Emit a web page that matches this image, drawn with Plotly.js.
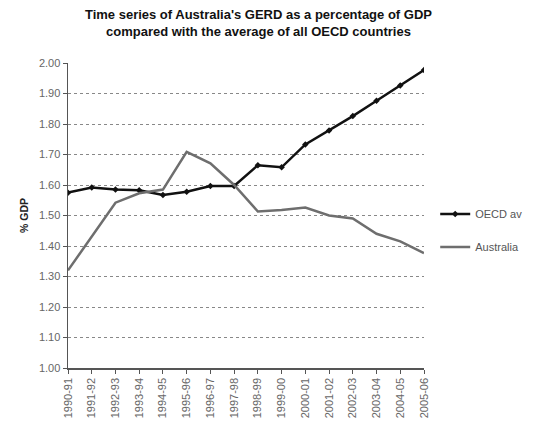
<!DOCTYPE html>
<html>
<head>
<meta charset="utf-8">
<script src="https://cdn.plot.ly/plotly-3.0.1.min.js"></script>
<style>html,body{margin:0;padding:0;background:#fff;}#chart{width:534px;height:423px;}</style>
</head>
<body>
<div id="chart"></div>
<script>
var years = ["1990-91","1991-92","1992-93","1993-94","1994-95","1995-96","1996-97","1997-98","1998-99","1999-00","2000-01","2001-02","2002-03","2003-04","2004-05","2005-06"];
var oecdAvg = [1.575,1.592,1.585,1.583,1.567,1.578,1.597,1.597,1.665,1.658,1.733,1.779,1.826,1.876,1.926,1.977];
var australia = [1.32,1.43,1.542,1.573,1.585,1.709,1.671,1.60,1.513,1.518,1.526,1.50,1.49,1.44,1.415,1.377];
var yTicks = [1.0,1.1,1.2,1.3,1.4,1.5,1.6,1.7,1.8,1.9,2.0];
var yTickText = ["1.00","1.10","1.20","1.30","1.40","1.50","1.60","1.70","1.80","1.90","2.00"];

var traces = [
  {x: years, y: oecdAvg, name: "OECD av", type: "scatter", mode: "lines+markers", legendgroup: "a",
   line: {color: "#111", width: 2.5}, marker: {symbol: "diamond", size: 5, color: "#111"}},
  {x: years, y: australia, name: "Australia", type: "scatter", mode: "lines", legendgroup: "b",
   line: {color: "#6e6e6e", width: 2.5}}
];

var layout = {
  width: 534, height: 423,
  margin: {l: 68, r: 110, t: 63, b: 55},
  paper_bgcolor: "#fff", plot_bgcolor: "#fff",
  font: {family: "Liberation Sans, Arial, sans-serif", color: "#555", size: 11},
  title: {text: "<b>Time series of Australia's GERD as a percentage of GDP<br>compared with the average of all OECD countries</b>",
          font: {size: 13, color: "#111"}, x: 0.484, xanchor: "center", y: 0.954, yanchor: "middle", yref: "container"},
  xaxis: {type: "category", range: [0, 15], tickangle: -90, showgrid: false,
          showline: true, linecolor: "#555", linewidth: 1.5, ticks: "outside", ticklen: 4, tickcolor: "#555",
          tickfont: {size: 11, color: "#666"}, zeroline: false, automargin: false},
  yaxis: {range: [1.0, 2.0], tickvals: yTicks, ticktext: yTickText, showgrid: true,
          gridcolor: "#888", griddash: "dot", gridwidth: 1,
          showline: true, linecolor: "#555", linewidth: 1.5, ticks: "outside", ticklen: 4, tickcolor: "#555",
          tickfont: {size: 11, color: "#666"}, zeroline: false, automargin: false,
          title: {text: "<b>% GDP</b>", font: {size: 10.5, color: "#222"}, standoff: 8}},
  legend: {xref: "container", yref: "container", x: 0.815, y: 0.455, xanchor: "left", yanchor: "middle",
           bgcolor: "rgba(0,0,0,0)", traceorder: "grouped",
           font: {size: 11, color: "#555"}, tracegroupgap: 14, itemwidth: 30},
  showlegend: true
};

Plotly.newPlot("chart", traces, layout, {displayModeBar: false, staticPlot: true});
</script>
</body>
</html>
